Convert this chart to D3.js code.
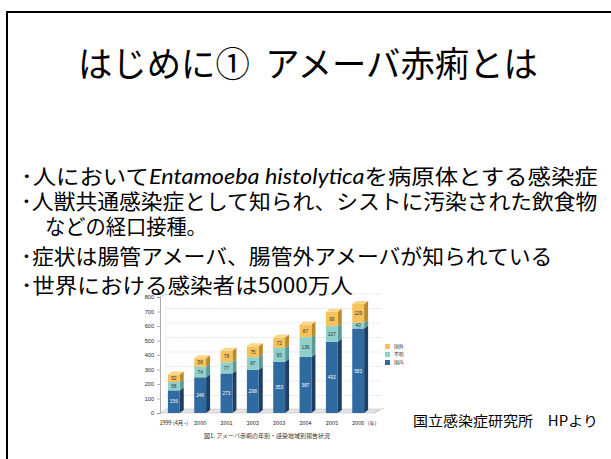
<!DOCTYPE html>
<html><head><meta charset="utf-8">
<script src="https://cdn.jsdelivr.net/npm/d3@7"></script>
<style>
html,body{margin:0;padding:0;background:#fff;}
svg{display:block;}
</style></head>
<body>
<svg id="s" width="611" height="459"></svg>
<script>
const years = ["1999 (4月~)", "2000", "2001", "2002", "2003", "2004", "2005", "2006"];
const domestic = [156, 246, 273, 298, 353, 387, 492, 583];
const unknown = [58, 74, 77, 87, 95, 136, 107, 40];
const overseas = [52, 58, 79, 75, 72, 87, 99, 129];
const seriesNames = ["国内", "不明", "国外"];
const seriesColors = ["#2f6aa0", "#8fd0cc", "#f6c25c"];
const sideColors = ["#1c3f63", "#5c9a96", "#b88a2a"];
const topColors = ["#4a86bd", "#b0e0dc", "#f9d68a"];
const yTicks = [0, 100, 200, 300, 400, 500, 600, 700, 800];

const svg = d3.select("#s");
const FONT = "'Noto Sans CJK JP','Noto Sans',sans-serif";

function fitWidth(sel, xLeft, target) {
  const w = sel.node().getBBox().width;
  const sx = target / w;
  sel.attr("transform", `translate(${xLeft},0) scale(${sx},1) translate(${-xLeft},0)`);
}

// slide frame
svg.append("rect").attr("x", 7).attr("y", 12).attr("width", 640).attr("height", 480)
  .attr("fill", "none").attr("stroke", "#000").attr("stroke-width", 2);

// title
const title = svg.append("text").attr("x", 78).attr("y", 77)
  .attr("font-family", FONT).attr("font-size", 35).attr("fill", "#000")
  .attr("xml:space", "preserve").style("white-space", "pre")
  .text("はじめに①  アメーバ赤痢とは");
fitWidth(title, 78, 460);

// bullets
const lines = [
  {y: 184, x: 21, w: 577},
  {y: 209, x: 21, w: 577},
  {y: 234, x: 45, w: 162},
  {y: 264, x: 21, w: 532},
  {y: 293, x: 21, w: 332}
];
const t1 = svg.append("text").attr("x", lines[0].x).attr("y", lines[0].y).attr("font-family", FONT).attr("font-size", 21);
t1.append("tspan").text("･人において");
t1.append("tspan").attr("font-style", "italic").attr("font-family", "Lato,'Open Sans',sans-serif").text("Entamoeba histolytica");
t1.append("tspan").text("を病原体とする感染症");
fitWidth(t1, lines[0].x, lines[0].w);
const texts = ["･人獣共通感染症として知られ、シストに汚染された飲食物", "などの経口接種。",
  "･症状は腸管アメーバ、腸管外アメーバが知られている", "･世界における感染者は5000万人"];
texts.forEach((s, i) => {
  const L = lines[i + 1];
  const t = svg.append("text").attr("x", L.x).attr("y", L.y).attr("font-family", FONT).attr("font-size", 21).text(s);
  fitWidth(t, L.x, L.w);
});

// chart
const x0 = 160, x1 = 372, yTop = 297, yBot = 413;
const depthX = 4, depthY = 3;
const y = d3.scaleLinear().domain([0, 800]).range([yBot, yTop]);
const x = d3.scaleBand().domain(years).range([x0, x1]).paddingInner(0.55).paddingOuter(0.3);

const g = svg.append("g");
g.append("polygon")
  .attr("points", [[x0, yBot], [x1 + 2, yBot], [x1 + 2 + depthX + 2, yBot - depthY - 1], [x0 + depthX + 2, yBot - depthY - 1]].map(p => p.join(",")).join(" "))
  .attr("fill", "#e4e4e4").attr("stroke", "#bbb").attr("stroke-width", 0.5);
g.selectAll("line.grid").data(yTicks.slice(1)).join("line")
  .attr("x1", x0 + depthX + 2).attr("x2", x1 + depthX + 6)
  .attr("y1", d => y(d) - depthY).attr("y2", d => y(d) - depthY)
  .attr("stroke", "#c8c8c8").attr("stroke-width", 0.6).attr("stroke-dasharray", "1.5,1.5");
g.append("line").attr("x1", x0 + depthX + 2).attr("x2", x0 + depthX + 2).attr("y1", y(800) - depthY).attr("y2", yBot - depthY)
  .attr("stroke", "#ddd").attr("stroke-width", 0.6).attr("stroke-dasharray", "1.5,1.5");
const yAxis = d3.axisLeft(y).tickValues(yTicks).tickSize(3).tickPadding(3);
const ya = g.append("g").attr("transform", `translate(${x0},0)`).call(yAxis);
ya.select(".domain").attr("stroke", "#888").attr("stroke-width", 0.7);
ya.selectAll(".tick line").attr("stroke", "#888").attr("stroke-width", 0.6);
ya.selectAll(".tick text").attr("font-size", 5.5).attr("font-family", "'Liberation Sans',sans-serif").attr("fill", "#222");
g.append("line").attr("x1", x0).attr("y1", y(800)).attr("x2", x0 + depthX + 2).attr("y2", y(800) - depthY)
  .attr("stroke", "#aaa").attr("stroke-width", 0.6);
g.append("line").attr("x1", x1 + 2).attr("y1", yBot).attr("x2", x1 + depthX + 8).attr("y2", yBot - depthY - 2)
  .attr("stroke", "#aaa").attr("stroke-width", 0.6);

const stackData = years.map((yr, i) => ({yr, vals: [domestic[i], unknown[i], overseas[i]]}));
stackData.forEach(d => {
  let acc = 0;
  const bw = x.bandwidth();
  const bx = x(d.yr);
  d.vals.forEach((v, k) => {
    const yb = y(acc), yt = y(acc + v);
    acc += v;
    g.append("polygon")
      .attr("points", [[bx + bw, yb], [bx + bw + depthX, yb - depthY], [bx + bw + depthX, yt - depthY], [bx + bw, yt]].map(p => p.join(",")).join(" "))
      .attr("fill", sideColors[k]);
    g.append("rect").attr("x", bx).attr("y", yt).attr("width", bw).attr("height", yb - yt).attr("fill", seriesColors[k]);
    if (k === 2) {
      g.append("polygon")
        .attr("points", [[bx, yt], [bx + depthX, yt - depthY], [bx + bw + depthX, yt - depthY], [bx + bw, yt]].map(p => p.join(",")).join(" "))
        .attr("fill", topColors[k]);
    }
    g.append("text").attr("x", bx + bw / 2).attr("y", (yb + yt) / 2 + 1.8).attr("text-anchor", "middle")
      .attr("font-size", 4.8).attr("font-family", "'Liberation Sans',sans-serif")
      .attr("fill", k === 0 ? "#fff" : "#333").text(v);
  });
});

g.selectAll("text.xl").data(years).join("text")
  .attr("x", d => x(d) + x.bandwidth() / 2).attr("y", 425).attr("text-anchor", "middle")
  .attr("font-size", 5.5).attr("font-family", "'Noto Sans CJK JP',sans-serif").attr("fill", "#222").text(d => d);
g.append("text").attr("x", x(years[7]) + x.bandwidth() / 2 + 14).attr("y", 425).attr("text-anchor", "middle")
  .attr("font-size", 5).attr("font-family", "'Noto Sans CJK JP',sans-serif").attr("fill", "#222").text("(年)");

const legOrder = [2, 1, 0];
legOrder.forEach((k, i) => {
  const ly = 344 + i * 8;
  g.append("rect").attr("x", 385).attr("y", ly).attr("width", 5).attr("height", 5).attr("fill", seriesColors[k]);
  g.append("text").attr("x", 394).attr("y", ly + 4.3).attr("font-size", 4.8)
    .attr("font-family", "'Noto Sans CJK JP',sans-serif").attr("fill", "#333").text(seriesNames[k]);
});

g.append("text").attr("x", 267).attr("y", 438).attr("text-anchor", "middle")
  .attr("font-size", 6).attr("font-family", "'Noto Sans CJK JP',sans-serif").attr("fill", "#333")
  .text("図1. アメーバ赤痢の年別・感染地域別報告状況");

const src = svg.append("text").attr("x", 413).attr("y", 426).attr("font-family", FONT).attr("font-size", 14)
  .text("国立感染症研究所　HPより");
fitWidth(src, 413, 185);
</script>
</body></html>
